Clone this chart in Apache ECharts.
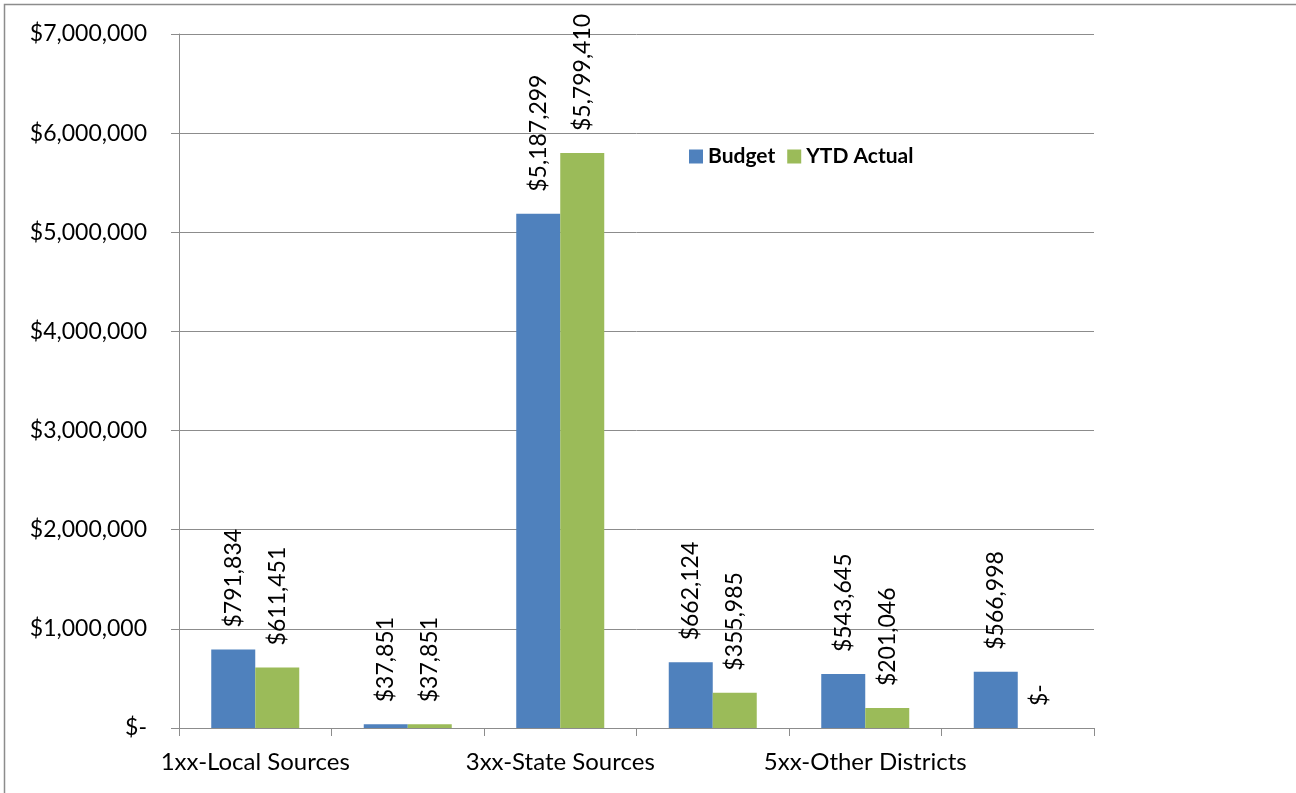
<!DOCTYPE html>
<html><head><meta charset="utf-8">
<script src="https://cdn.jsdelivr.net/npm/echarts@6/dist/echarts.min.js"></script>
<style>html,body{margin:0;padding:0;background:#fff}#c{width:1296px;height:793px}</style>
</head><body><div id="c"></div>
<script>
const categories = ['1xx-Local Sources','2xx-Intermediate Sources','3xx-State Sources','4xx-Federal Sources','5xx-Other Districts','6xx-Other Sources'];
const budget = [791834, 37851, 5187299, 662124, 543645, 566998];
const ytdActual = [611451, 37851, 5799410, 355985, 201046, 0];
const yTicks = {min: 0, max: 7000000, interval: 1000000};

const FONT = 'Lato';
function money(v){ return v === 0 ? '$-' : '$' + Math.round(v).toLocaleString('en-US'); }

const labelCfg = {
  show: true, position: 'top', rotate: 90, align: 'left', verticalAlign: 'middle',
  distance: 22, color: '#000', fontFamily: FONT, fontSize: 23,
  formatter: p => money(p.value)
};

const chart = echarts.init(document.getElementById('c'), null, {renderer: 'canvas'});
chart.setOption({
  animation: false,
  backgroundColor: '#fff',
  graphic: [{type: 'rect', shape: {x: 4.5, y: 4.5, width: 1300, height: 800}, style: {fill: 'none', stroke: '#8c8c8c', lineWidth: 1.5}, silent: true}],
  grid: {left: 179, right: 202, top: 34, bottom: 65},
  legend: {
    left: 684, top: 141, itemWidth: 14, itemHeight: 14, itemGap: 12,
    icon: 'rect',
    textStyle: {fontFamily: FONT, fontSize: 21, fontWeight: 'bold', color: '#000'},
    data: ['Budget', 'YTD Actual']
  },
  xAxis: {
    type: 'category', data: categories,
    axisLine: {lineStyle: {color: '#8c8c8c', width: 1}},
    axisTick: {show: true, interval: 0, length: 8, lineStyle: {color: '#8c8c8c'}},
    axisLabel: {interval: 1, color: '#000', fontFamily: FONT, fontSize: 24, margin: 22}
  },
  yAxis: {
    type: 'value', min: yTicks.min, max: yTicks.max, interval: yTicks.interval,
    axisLine: {show: true, lineStyle: {color: '#8c8c8c', width: 1}},
    axisTick: {show: true, length: 8, inside: false, lineStyle: {color: '#8c8c8c'}},
    splitLine: {lineStyle: {color: '#8c8c8c', width: 1}},
    axisLabel: {color: '#000', fontFamily: FONT, fontSize: 23, margin: 32, formatter: money}
  },
  series: [
    {name: 'Budget', type: 'bar', data: budget, barWidth: 44, barGap: '0%',
     itemStyle: {color: '#4F81BD'}, label: labelCfg},
    {name: 'YTD Actual', type: 'bar', data: ytdActual, barWidth: 44, barGap: '0%',
     itemStyle: {color: '#9BBB59'}, label: labelCfg}
  ]
});
</script></body></html>
